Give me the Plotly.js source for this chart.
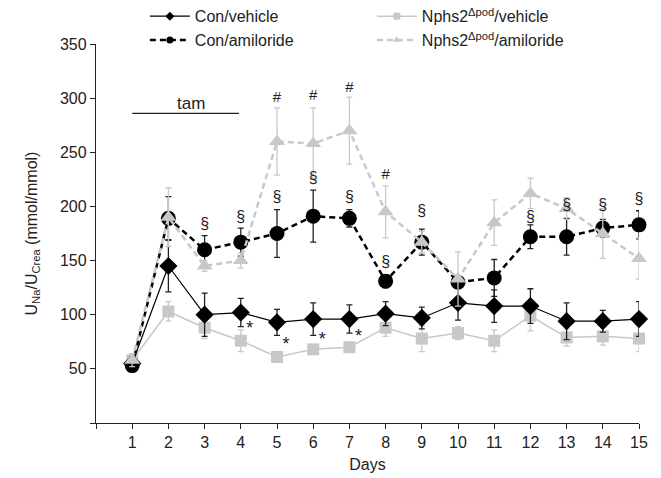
<!DOCTYPE html>
<html>
<head>
<meta charset="utf-8">
<script src="https://cdn.plot.ly/plotly-3.0.1.min.js"></script>
<style>html,body{margin:0;padding:0;background:#fff;}#chart{width:661px;height:478px;}</style>
</head>
<body>
<div id="chart"></div>
<script>
const days = [1,2,3,4,5,6,7,8,9,10,11,12,13,14,15];

const conVehicle = [55,145,100,102,93,96,96,101,97,111,108,108,94,94,96];
const conVehicleErr = [6,24,20,13,12,15,13,11,10,16,15,16,17,10,16];

const conAmiloride = [53,189,160,167,175,191,189,131,167,130,134,172,172,180,183];
const conAmilorideErr = [5,20,13,13,22,24,8,6,12,5,17,11,17,8,13];

const nphsVehicle = [58,103,88,76,61,68,70,88,78,83,76,99,79,80,78];
const nphsVehicleErr = [6,9,10,10,4,3,3,8,12,6,10,14,8,8,12];

const nphsAmiloride = [58,190,145,150,260,258,270,195,167,133,185,212,198,175,152];
const nphsAmilorideErr = [6,27,5,7,31,33,31,24,10,25,21,14,10,23,19];

const seriesNames = ['Con/vehicle', 'Nphs2<sup>Δpod</sup>/vehicle', 'Con/amiloride', 'Nphs2<sup>Δpod</sup>/amiloride'];

const yTicks = [0,50,100,150,200,250,300,350];
const yTickText = ['','50','100','150','200','250','300','350'];
const xTicks = [0,1,2,3,4,5,6,7,8,9,10,11,12,13,14,15];
const xTickText = ['','1','2','3','4','5','6','7','8','9','10','11','12','13','14','15'];

// significance marks
const sectionDays = [3,4,5,6,7,8,9,12,13,14,15];
const sectionY = [183,189,208,225,208,148,195,189,200,200,206];
const hashDays = [5,6,7,8];
const hashY = [300,302,309,229];
const starDays = [4.25,5.25,6.25,7.25];
const starY = [86,72,76,79];

const tamStart = 1, tamEnd = 3.95, tamY = 286;

const BLACK = '#000000';
const GREY = '#c8c8c8';

const styles = {
  conVehicle: {line: {color: BLACK, width: 1.2}, symbol: 'diamond', color: BLACK},
  nphsVehicle: {line: {color: GREY, width: 1.5}, symbol: 'square', color: GREY},
  conAmiloride: {line: {color: BLACK, width: 2.5, dash: '6px,4px'}, symbol: 'circle', color: BLACK},
  nphsAmiloride: {line: {color: GREY, width: 2.5, dash: '6px,4px'}, symbol: 'triangle-up', color: GREY}
};

const traces = [
  {
    x: days, y: nphsVehicle, showlegend: false,
    mode: 'lines+markers', cliponaxis: false,
    line: styles.nphsVehicle.line,
    marker: {symbol: 'square', size: 12, color: GREY},
    error_y: {type: 'data', array: nphsVehicleErr, color: GREY, thickness: 1.3, width: 3}
  },
  {
    x: days, y: conVehicle, showlegend: false,
    mode: 'lines+markers', cliponaxis: false,
    line: styles.conVehicle.line,
    marker: {symbol: 'diamond', size: 14, color: BLACK},
    error_y: {type: 'data', array: conVehicleErr, color: '#222', thickness: 1.3, width: 3}
  },
  {
    x: days, y: conAmiloride, showlegend: false,
    mode: 'lines+markers', cliponaxis: false,
    line: styles.conAmiloride.line,
    marker: {symbol: 'circle', size: 15, color: BLACK},
    error_y: {type: 'data', array: conAmilorideErr, color: '#222', thickness: 1.3, width: 3}
  },
  {
    x: days, y: nphsAmiloride, showlegend: false,
    mode: 'lines+markers', cliponaxis: false,
    line: styles.nphsAmiloride.line,
    marker: {symbol: 'triangle-up', size: 14, color: GREY},
    error_y: {type: 'data', array: nphsAmilorideErr, color: GREY, thickness: 1.3, width: 3}
  },
  {
    x: sectionDays, y: sectionY, mode: 'text', text: sectionDays.map(() => '§'),
    textfont: {size: 16, color: '#222'}, showlegend: false, hoverinfo: 'skip', cliponaxis: false
  },
  {
    x: hashDays, y: hashY, mode: 'text', text: hashDays.map(() => '#'),
    textfont: {size: 15, color: '#222'}, showlegend: false, hoverinfo: 'skip', cliponaxis: false
  },
  {
    x: starDays, y: starY, mode: 'text', text: starDays.map(() => '*'),
    textfont: {size: 18, color: '#222'}, showlegend: false, hoverinfo: 'skip', cliponaxis: false
  }
];

// legend entries (small symbols as in the reference)
const legendKeys = ['conVehicle', 'nphsVehicle', 'conAmiloride', 'nphsAmiloride'];
legendKeys.forEach((k, i) => {
  traces.push({
    x: [null], y: [null], name: seriesNames[i], legendrank: i + 1,
    mode: 'lines+markers', line: styles[k].line,
    marker: {symbol: styles[k].symbol, size: 7, color: styles[k].color}
  });
});

const layout = {
  width: 661, height: 478,
  margin: {l: 96, r: 22, t: 44, b: 55, autoexpand: false},
  paper_bgcolor: '#fff', plot_bgcolor: '#fff',
  font: {family: 'Liberation Sans, Arial, sans-serif', size: 16, color: '#222'},
  showlegend: true,
  legend: {
    orientation: 'h', x: 0.090, xanchor: 'left', y: 1.118, yanchor: 'top',
    entrywidth: 172, tracegroupgap: 0, itemwidth: 40,
    font: {size: 16, color: '#222'}, bgcolor: 'rgba(0,0,0,0)'
  },
  xaxis: {
    range: [0, 15], tickvals: xTicks, ticktext: xTickText,
    showgrid: false, zeroline: false, showline: true, linecolor: '#222', linewidth: 1.2,
    ticks: 'outside', ticklen: 5, tickcolor: '#222', tickfont: {size: 16},
    title: {text: 'Days', font: {size: 16}, standoff: 8}
  },
  yaxis: {
    range: [0, 350], tickvals: yTicks, ticktext: yTickText,
    showgrid: false, zeroline: false, showline: true, linecolor: '#222', linewidth: 1.2,
    ticks: 'outside', ticklen: 5, tickcolor: '#222', tickfont: {size: 16},
    title: {text: 'U<sub>Na</sub>/U<sub>Crea</sub> (mmol/mmol)', font: {size: 16}, standoff: 18}
  },
  shapes: [
    {type: 'line', xref: 'x', yref: 'y', x0: tamStart, x1: tamEnd, y0: tamY, y1: tamY,
     line: {color: '#222', width: 1.3}}
  ],
  annotations: [
    {xref: 'x', yref: 'y', x: (tamStart + tamEnd) / 2 + 0.15, y: tamY, text: 'tam',
     showarrow: false, yanchor: 'bottom', font: {size: 17, color: '#222'}, yshift: -2}
  ]
};

Plotly.newPlot('chart', traces, layout, {displayModeBar: false, staticPlot: true});
</script>
</body>
</html>
